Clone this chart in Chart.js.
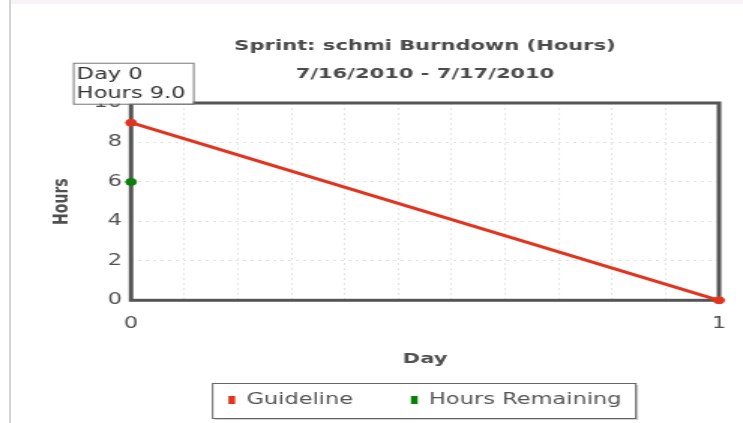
<!DOCTYPE html>
<html>
<head>
<meta charset="utf-8">
<script src="https://cdn.jsdelivr.net/npm/chart.js@4.4.1/dist/chart.umd.min.js"></script>
<style>
    html, body { margin: 0; padding: 0; background: #fff; overflow: hidden; }
    body { width: 743px; height: 423px; position: relative; }
    #strip { position: absolute; left: 11px; top: 0; width: 732px; height: 4px; background: #f6f2f6; }
    #edge { position: absolute; left: 9px; top: 0; width: 2px; height: 423px; background: #d4d4d4; }
    /* the source picture is stretched sideways, so the chart is drawn narrow and widened */
    #wrap { position: absolute; left: 0; top: 0; width: 495px; height: 423px; transform: scaleX(1.501); transform-origin: 0 0; }
</style>
</head>
<body>
<div id="strip"></div>
<div id="edge"></div>
<div id="wrap"><canvas id="chart" width="495" height="423"></canvas></div>
<script>
    // --- Data ---
    const titleLines = ['Sprint: schmi Burndown (Hours)', '7/16/2010 - 7/17/2010'];
    const guidelineDays = [0, 1];
    const guidelineHours = [9, 0];
    const remainingDays = [0];
    const remainingHours = [6];
    const yTickValues = [0, 2, 4, 6, 8, 10];
    const xTickLabels = [0, 1];
    const xGridSteps = 11;

    const FONT = 'DejaVu Sans';
    const textGrey = '#505050';
    const red = '#e3331f';
    const green = '#0b7f0b';

    const toPoints = (xs, ys) => xs.map((x, i) => ({ x: x, y: ys[i] }));

    // frame around the plot, under the lines
    const framePlugin = {
        id: 'frame',
        beforeDatasetsDraw(chart) {
            const { ctx, chartArea: a } = chart;
            ctx.save();
            ctx.strokeStyle = '#555';
            ctx.lineWidth = 3;
            ctx.strokeRect(a.left, a.top, a.right - a.left, a.bottom - a.top);
            ctx.restore();
        }
    };

    // boxed legend with a soft shadow
    const legendBoxPlugin = {
        id: 'legendBox',
        beforeDraw(chart) {
            const boxes = chart.legend && chart.legend.legendHitBoxes;
            if (!boxes || !boxes.length) return;
            const first = boxes[0], last = boxes[boxes.length - 1];
            const left = first.left - 11;
            const right = last.left + last.width + 9;
            const midY = first.top + first.height / 2;
            const top = midY - 17, h = 35;
            const ctx = chart.ctx;
            ctx.save();
            ctx.fillStyle = 'rgba(0,0,0,0.18)';
            ctx.fillRect(left + 2, top + 2, right - left, h);
            ctx.fillStyle = '#fff';
            ctx.fillRect(left, top, right - left, h);
            ctx.strokeStyle = '#666';
            ctx.lineWidth = 1;
            ctx.strokeRect(left + 0.5, top + 0.5, right - left, h);
            ctx.restore();
        }
    };

    // the hover box shown on the first guideline point
    const hoverBoxPlugin = {
        id: 'hoverBox',
        afterDraw(chart) {
            const pt = chart.getDatasetMeta(0).data[0];
            if (!pt) return;
            const ctx = chart.ctx;
            const left = pt.x - 38.7, top = pt.y - 60, w = 80, h = 41;
            ctx.save();
            ctx.fillStyle = '#fff';
            ctx.fillRect(left, top, w, h);
            ctx.strokeStyle = '#777';
            ctx.lineWidth = 1;
            ctx.strokeRect(left + 0.5, top + 0.5, w, h);
            ctx.fillStyle = '#333';
            ctx.font = '15px "' + FONT + '"';
            ctx.textBaseline = 'middle';
            ctx.fillText('Day ' + guidelineDays[0], left + 2.5, top + 12);
            ctx.fillText('Hours ' + guidelineHours[0].toFixed(1), left + 2.5, top + 31);
            ctx.restore();
        }
    };

    new Chart(document.getElementById('chart'), {
        type: 'line',
        data: {
            datasets: [
                {
                    label: 'Guideline',
                    data: toPoints(guidelineDays, guidelineHours),
                    borderColor: red, backgroundColor: red, borderWidth: 3, clip: false,
                    pointRadius: 3.5, pointBackgroundColor: red, pointBorderColor: red, pointBorderWidth: 1,
                    tension: 0
                },
                {
                    label: 'Hours Remaining',
                    data: toPoints(remainingDays, remainingHours),
                    borderColor: green, backgroundColor: green, borderWidth: 3, clip: false,
                    pointRadius: 3.5, pointBackgroundColor: green, pointBorderColor: green, pointBorderWidth: 1,
                    tension: 0
                }
            ]
        },
        options: {
            responsive: false,
            animation: false,
            layout: { padding: { left: 0, right: 16, top: 0, bottom: 5.5 } },
            plugins: {
                tooltip: { enabled: false },
                title: {
                    display: true, fullSize: false, text: titleLines, color: '#4a4a4a',
                    font: { family: FONT, size: 14, weight: 'bold', lineHeight: 2 },
                    padding: { top: 32, bottom: 15 }
                },
                legend: {
                    position: 'bottom', fullSize: false,
                    labels: {
                        usePointStyle: true, pointStyle: 'rect', pointStyleWidth: 4.5, boxHeight: 8,
                        padding: 38.5, color: '#555', font: { family: FONT, size: 15 },
                        generateLabels: (chart) => Chart.defaults.plugins.legend.labels.generateLabels(chart)
                            .map(l => Object.assign(l, { lineWidth: 0 }))
                    }
                }
            },
            scales: {
                x: {
                    type: 'linear', min: 0, max: 1,
                    afterBuildTicks: (scale) => {
                        const t = [];
                        for (let i = 0; i <= xGridSteps; i++) t.push({ value: i / xGridSteps });
                        scale.ticks = t;
                    },
                    afterFit: (scale) => {
                        scale.height = 53.7;
                        scale.paddingLeft = 0;
                        scale.paddingRight = 0;
                    },
                    ticks: {
                        padding: 15, color: textGrey, font: { family: FONT, size: 15 }, maxRotation: 0, autoSkip: false,
                        callback: (v) => xTickLabels.includes(v) ? String(v) : ''
                    },
                    grid: { color: '#e4e4e4', drawTicks: false },
                    border: { display: false, dash: [2, 3] },
                    title: {
                        display: true, text: 'Day', color: textGrey,
                        font: { family: FONT, size: 14, weight: 'bold' }, padding: { top: 0, bottom: -13.5 }
                    }
                },
                y: {
                    min: 0, max: 10,
                    afterBuildTicks: (scale) => { scale.ticks = yTickValues.map(v => ({ value: v })); },
                    afterFit: (scale) => { scale.width = 87.3; },
                    ticks: { padding: 6, color: textGrey, font: { family: FONT, size: 15 } },
                    grid: { color: '#e4e4e4', drawTicks: false },
                    border: { display: false, dash: [2, 3] },
                    title: {
                        display: true, text: 'Hours', color: textGrey,
                        font: { family: FONT, size: 14, weight: 'bold' }, padding: { top: 33, bottom: 0 }
                    }
                }
            }
        },
        plugins: [framePlugin, legendBoxPlugin, hoverBoxPlugin]
    });
</script>
</body>
</html>
